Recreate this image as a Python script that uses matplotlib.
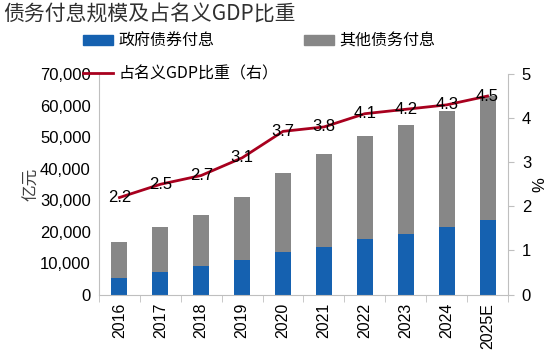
import matplotlib
matplotlib.use("Agg")
import matplotlib.pyplot as plt
from matplotlib.patches import Patch
from matplotlib.lines import Line2D

plt.rcParams['font.family'] = ['Liberation Sans', 'Noto Sans CJK SC', 'DejaVu Sans']

years = ['2016', '2017', '2018', '2019', '2020', '2021', '2022', '2023', '2024', '2025E']
gov_interest = [5300, 7200, 9000, 10900, 13500, 15000, 17600, 19200, 21300, 23600]
total_interest = [16700, 21500, 25400, 31100, 38700, 44700, 50400, 53800, 58300, 63000]
gdp_share = [2.2, 2.5, 2.7, 3.1, 3.7, 3.8, 4.1, 4.2, 4.3, 4.5]
other_interest = [t - g for t, g in zip(total_interest, gov_interest)]

blue = '#1561B0'
grey = '#878787'
red = '#A8001E'
spine = '#BFBFBF'
cjk = ['Noto Sans CJK SC', 'DejaVu Sans']

fig = plt.figure(figsize=(5.5, 3.61), dpi=100)
ax = fig.add_axes([0.18, 0.184, 0.7436, 0.611])
x = list(range(len(years)))
w = 0.39
ax.bar(x, gov_interest, width=w, color=blue, zorder=2)
ax.bar(x, other_interest, width=w, bottom=gov_interest, color=grey, zorder=2)
ax.set_xlim(-0.5, len(years) - 0.5)
ax.set_ylim(0, 70000)
ax.set_yticks(range(0, 70001, 10000))
ax.set_yticklabels([f'{v:,}' for v in range(0, 70001, 10000)], fontsize=12)
ax.tick_params(axis='y', length=0, pad=6)
ax.set_xticks(x)
ax.set_xticklabels(years, rotation=90, fontsize=11.5)
ax.tick_params(axis='x', length=0, pad=6)
ax.set_xticks([i - 0.5 for i in range(len(years) + 1)], minor=True)
ax.tick_params(axis='x', which='minor', length=5, color=spine, direction='out')
for s in ['top', 'right']:
    ax.spines[s].set_visible(False)
for s in ['left', 'bottom']:
    ax.spines[s].set_color(spine)
ax.set_ylabel('亿元', family=cjk, fontsize=12, color='#404040', labelpad=0)

ax2 = ax.twinx()
ax2.plot(x, gdp_share, color=red, lw=2, zorder=3)
ax2.set_ylim(0, 5)
ax2.set_yticks(range(0, 6))
ax2.set_yticklabels([str(v) for v in range(0, 6)], fontsize=12)
ax2.tick_params(axis='y', length=4, color=spine, pad=6)
for s in ['top', 'left', 'bottom']:
    ax2.spines[s].set_visible(False)
ax2.spines['right'].set_color(spine)
ax2.set_ylabel('%', fontsize=12, labelpad=1)
for xi, v in zip(x, gdp_share):
    ax2.text(xi, v, f'{v:.1f}', ha='center', va='center', fontsize=12, zorder=4)

fig.text(0.006, 0.962, '债务付息规模及占名义GDP比重', family=cjk, fontsize=15,
         ha='left', va='center', color='#303030')

handles = [Patch(color=blue), Line2D([], [], color=red, lw=2),
           Patch(color=grey)]
labels = ['政府债券付息', '占名义GDP比重（右）', '其他债务付息']
fig.legend(handles, labels, ncol=2, loc='upper left', bbox_to_anchor=(0.151, 0.91),
           frameon=False, prop={'family': cjk, 'size': 11.5}, handlelength=1.9,
           handleheight=0.55, columnspacing=1.6, labelspacing=1.0, handletextpad=0.3,
           borderpad=0, borderaxespad=0)

fig.savefig('out.png', dpi=100)
